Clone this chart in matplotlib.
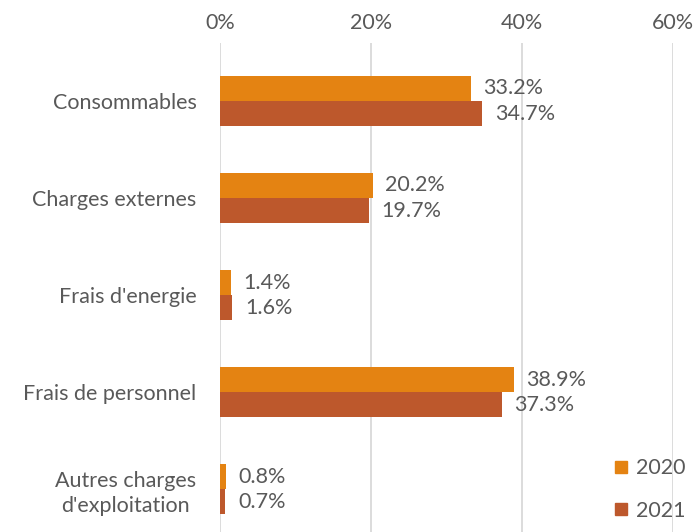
import matplotlib.pyplot as plt
import numpy as np
from matplotlib.lines import Line2D

categories = ['Consommables', 'Charges externes', "Frais d'energie", 'Frais de personnel',
              "Autres charges\nd'exploitation"]
values_2020 = [33.2, 20.2, 1.4, 38.9, 0.8]
values_2021 = [34.7, 19.7, 1.6, 37.3, 0.7]
series_labels = ['2020', '2021']
colors = ['#E48312', '#BD582C']
xticks = [0, 20, 40, 60]

plt.rcParams['font.family'] = ['Lato', 'DejaVu Sans']
text_color = '#595959'
fs = 15.5

fig = plt.figure(figsize=(6.97, 5.32), dpi=100)
# plot area: x 220..673 px, y 43..532 px
ax = fig.add_axes([220 / 697, 0.0, 453 / 697, 489 / 532])

y = np.arange(len(categories))
h = 0.258
for vals, off, c in [(values_2020, -h / 2, colors[0]), (values_2021, h / 2, colors[1])]:
    ax.barh(y + off, vals, height=h, color=c, zorder=3)
    for yi, v in zip(y, vals):
        ax.text(v + 1.7, yi + off, '%.1f%%' % v, va='center', ha='left',
                fontsize=fs, color=text_color)

ax.set_xlim(0, 60)
ax.set_ylim(4.443, -0.598)
ax.set_xticks(xticks)
ax.set_xticklabels(['%d%%' % t for t in xticks])
ax.xaxis.tick_top()
ax.set_yticks(y)
ax.set_yticklabels(categories, linespacing=1.3)
ax.tick_params(axis='both', length=0, labelsize=fs, labelcolor=text_color)
ax.tick_params(axis='x', pad=7)
ax.tick_params(axis='y', pad=17)
for lbl in ax.get_yticklabels():
    lbl.set_horizontalalignment('right')
    lbl.set_multialignment('center')
ax.grid(axis='x', color='#D9D9D9', linewidth=1.3, zorder=0)
for s in ax.spines.values():
    s.set_visible(False)

handles = [Line2D([], [], marker='s', linestyle='none', markersize=9, color=c) for c in colors]
fig.legend(handles, series_labels, loc='lower right', bbox_to_anchor=(1.0, 0.0),
           frameon=False, fontsize=fs, labelcolor=text_color, labelspacing=1.04,
           handletextpad=0.1, borderaxespad=0.12, handlelength=1.2)

fig.savefig('out.png', dpi=100)
